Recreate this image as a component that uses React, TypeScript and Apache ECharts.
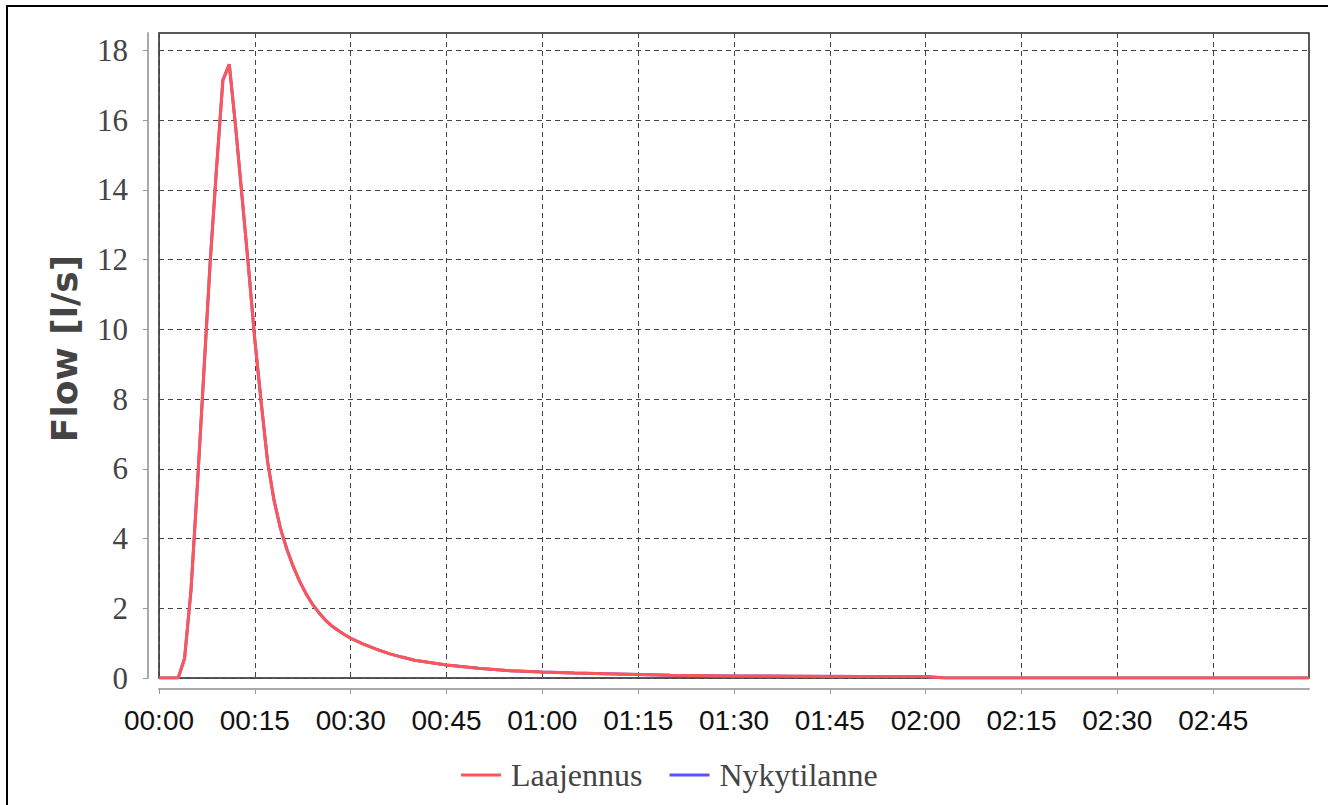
import React, { useEffect, useRef } from "react";
import * as echarts from "echarts";

// Time (minutes from start) and flow values [l/s]
const minutes = [
  0, 1, 2, 3, 4, 5, 6, 7, 8, 9, 10, 11, 12, 13, 14, 15, 16, 17, 18, 19, 20,
  21, 22, 23, 24, 25, 26, 27, 28, 29, 30, 32, 34, 36, 38, 40, 45, 50, 55, 60,
  65, 70, 75, 80, 90, 100, 110, 120, 123, 180,
];
const laajennusFlow = [
  0, 0, 0, 0, 0.56, 2.5, 5.5, 8.7, 11.9, 14.6, 17.15, 17.6, 15.8, 13.8, 11.8,
  9.7, 7.9, 6.2, 5.1, 4.3, 3.7, 3.2, 2.78, 2.42, 2.12, 1.88, 1.67, 1.5, 1.37,
  1.25, 1.14, 0.97, 0.83, 0.7, 0.6, 0.51, 0.37, 0.28, 0.21, 0.17, 0.14, 0.12,
  0.1, 0.08, 0.06, 0.05, 0.04, 0.04, 0, 0,
];
const nykytilanneFlow = [
  0, 0, 0, 0, 0.56, 2.5, 5.5, 8.7, 11.9, 14.6, 17.15, 17.6, 15.8, 13.8, 11.8,
  9.7, 7.9, 6.2, 5.1, 4.3, 3.7, 3.2, 2.78, 2.42, 2.12, 1.88, 1.67, 1.5, 1.37,
  1.25, 1.14, 0.97, 0.83, 0.7, 0.6, 0.51, 0.37, 0.28, 0.21, 0.17, 0.14, 0.12,
  0.1, 0.08, 0.06, 0.05, 0.04, 0.04, 0, 0,
];
const seriesNames = ["Laajennus", "Nykytilanne"];
const xTicks = [0, 15, 30, 45, 60, 75, 90, 105, 120, 135, 150, 165];
const yTicks = [0, 2, 4, 6, 8, 10, 12, 14, 16, 18];

const fmtTime = (v: number) =>
  `${String(Math.floor(v / 60)).padStart(2, "0")}:${String(v % 60).padStart(2, "0")}`;

export default function App() {
  const ref = useRef<HTMLDivElement>(null);
  useEffect(() => {
    if (!ref.current) return;
    const chart = echarts.init(ref.current, null, { renderer: "svg" });
    const pairs = (vals: number[]) => minutes.map((m, i) => [m, vals[i]]);
    chart.setOption({
      animation: false,
      backgroundColor: "#fff",
      graphic: [
        {
          type: "rect",
          shape: { x: 7, y: 6, width: 1340, height: 820 },
          style: { fill: "none", stroke: "#000", lineWidth: 2 },
          z: 100,
        },
      ],
      grid: {
        left: 159,
        top: 33,
        width: 1150,
        height: 645,
        show: true,
        borderColor: "#222",
        borderWidth: 1.5,
        backgroundColor: "#fff",
      },
      legend: {
        data: seriesNames,
        left: 456,
        top: 754,
        icon: "rect",
        itemWidth: 40,
        itemHeight: 3,
        itemGap: 27,
        textStyle: {
          fontFamily: "Liberation Serif",
          fontSize: 32,
          color: "#444",
          padding: [0, 0, 0, 5],
        },
      },
      xAxis: {
        type: "value",
        min: 0,
        max: 180,
        interval: 15,
        offset: 11,
        axisLine: { show: true, onZero: false, lineStyle: { color: "#aaa", width: 2 } },
        axisTick: {
          show: true,
          length: 5,
          customValues: xTicks,
          lineStyle: { color: "#999" },
        },
        axisLabel: {
          customValues: xTicks,
          formatter: (v: number) => fmtTime(v),
          fontFamily: "Liberation Sans",
          fontSize: 28,
          color: "#111",
          margin: 17,
        },
        splitLine: {
          show: true,
          lineStyle: { color: "#444", type: [5, 4], width: 1 },
        },
      },
      yAxis: {
        type: "value",
        min: 0,
        max: 18.5,
        interval: 2,
        offset: 11,
        name: "Flow [l/s]",
        nameLocation: "middle",
        nameGap: 66,
        nameTextStyle: {
          fontFamily: "DejaVu Sans",
          fontWeight: "bold",
          fontSize: 36,
          color: "#444",
          padding: [0, 0, 0, 14],
        },
        axisLine: { show: true, onZero: false, lineStyle: { color: "#aaa", width: 2 } },
        axisTick: {
          show: true,
          length: 5,
          customValues: yTicks,
          lineStyle: { color: "#999" },
        },
        axisLabel: {
          customValues: yTicks,
          fontFamily: "Liberation Serif",
          fontSize: 31,
          color: "#444",
          margin: 20,
        },
        splitLine: {
          show: true,
          lineStyle: { color: "#444", type: [5, 4], width: 1 },
        },
      },
      series: [
        {
          name: seriesNames[1],
          type: "line",
          symbol: "none",
          data: pairs(nykytilanneFlow),
          lineStyle: { color: "#5555ff", width: 3 },
          itemStyle: { color: "#5555ff" },
          z: 2,
        },
        {
          name: seriesNames[0],
          type: "line",
          symbol: "none",
          data: pairs(laajennusFlow),
          lineStyle: { color: "#ff5555", width: 3 },
          itemStyle: { color: "#ff5555" },
          z: 3,
        },
      ],
    });
    return () => chart.dispose();
  }, []);
  return (
    <div
      ref={ref}
      style={{ position: "absolute", left: 0, top: 0, width: 1328, height: 805, background: "#fff" }}
    />
  );
}
